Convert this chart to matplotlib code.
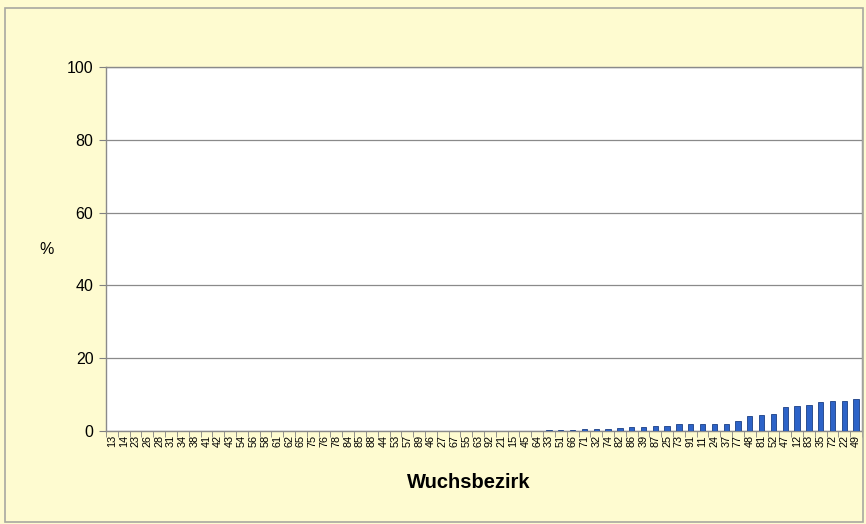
import matplotlib
matplotlib.use("Agg")
import matplotlib.pyplot as plt
import numpy as np

plt.rcParams["font.family"] = ["Liberation Sans", "DejaVu Sans"]

# Wuchsbezirke, sorted by share
bezirke = [
    "13", "14", "23", "26", "28", "31", "34", "38", "41", "42", "43", "54", "56", "58", "61", "62",
    "65", "75", "76", "78", "84", "85", "88", "44", "53", "57", "89", "46", "27", "67", "55", "63",
    "92", "21", "15", "45", "64", "33", "51", "66", "71", "32", "74", "82", "86", "39", "87", "25",
    "73", "91", "11", "24", "37", "77", "48", "81", "52", "47", "12", "83", "35", "72", "22", "49",
]
anteil = [
    0, 0, 0, 0, 0, 0, 0, 0, 0, 0, 0, 0, 0, 0, 0, 0,
    0, 0, 0, 0, 0, 0, 0, 0, 0, 0, 0, 0, 0, 0, 0, 0.02,
    0.03, 0.05, 0.08, 0.1, 0.12, 0.15, 0.3, 0.3, 0.5, 0.5, 0.6, 0.7, 1.0, 1.2, 1.5, 1.5,
    1.8, 1.8, 1.8, 1.9, 2.0, 2.8, 4.1, 4.4, 4.7, 6.5, 6.9, 7.1, 7.9, 8.3, 8.3, 8.7,
]
y_ticks = [0, 20, 40, 60, 80, 100]

fig = plt.figure(figsize=(8.66, 5.24), dpi=100, facecolor="#fefbd0")
fig.patches.append(plt.Rectangle((0.006, 0.004), 0.99, 0.98, transform=fig.transFigure,
                                 fill=False, edgecolor="#a8a8a0", linewidth=1.2))
ax = fig.add_axes([0.1224, 0.1775, 0.8730, 0.6946])
ax.set_facecolor("white")

x = np.arange(len(bezirke))
ax.bar(x, anteil, width=0.45, color="#2d63c8", edgecolor="#1b3f85", linewidth=0.6, zorder=3)

ax.set_xlim(-0.5, len(bezirke) - 0.5)
ax.set_ylim(0, 100)
ax.set_yticks(y_ticks)
ax.yaxis.grid(True, color="#8a8a8a", linewidth=0.9, zorder=0)
ax.tick_params(axis="y", labelsize=11.5, length=5, color="#808080", pad=4)

ax.set_xticks(x)
ax.set_xticklabels(bezirke, rotation=90, fontsize=7.8)
ax.set_xticks(np.arange(len(bezirke) + 1) - 0.5, minor=True)
ax.tick_params(axis="x", which="major", length=0, pad=3)
ax.tick_params(axis="x", which="minor", length=4, color="#808080")

for side in ["left", "bottom", "right", "top"]:
    ax.spines[side].set_color("#8a8a8a")
    ax.spines[side].set_linewidth(1.0)

ax.set_xlabel("Wuchsbezirk", fontsize=14.5, fontweight="bold")
ax.xaxis.set_label_coords(0.48, -0.115)
fig.text(0.054, 0.523, "%", fontsize=11.5, ha="center", va="center")

fig.savefig("out.png", dpi=100, facecolor=fig.get_facecolor())
